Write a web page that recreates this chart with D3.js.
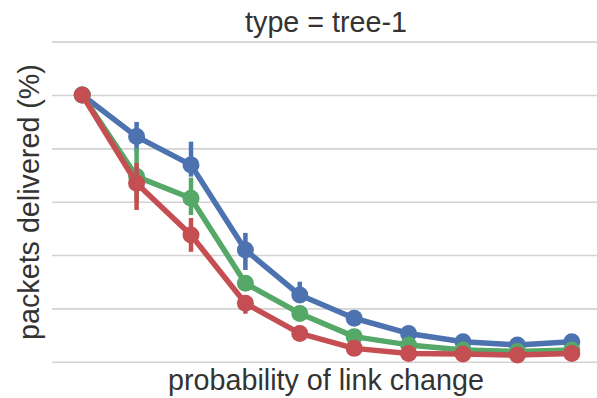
<!DOCTYPE html>
<html>
<head>
<meta charset="utf-8">
<script src="https://cdn.jsdelivr.net/npm/d3@7"></script>
<style>
  html, body { margin: 0; padding: 0; background: #ffffff; }
  svg { display: block; }
  text { font-family: "Liberation Sans", Arial, sans-serif; fill: #333333; }
</style>
</head>
<body>
<svg id="chart" width="597" height="398"></svg>
<script>
// Link-change probabilities (x categories, tick labels hidden)
const categories = ["0.0", "0.1", "0.2", "0.3", "0.4", "0.5", "0.6", "0.7", "0.8", "0.9"];
const yTicks = [0, 0.2, 0.4, 0.6, 0.8, 1.0, 1.2];

// Mean fraction of packets delivered per run group
const blueMean  = [1.0, 0.844, 0.738, 0.419, 0.250, 0.163, 0.106, 0.075, 0.063, 0.075];
const greenMean = [1.0, 0.694, 0.613, 0.294, 0.181, 0.094, 0.063, 0.044, 0.038, 0.044];
const redMean   = [1.0, 0.669, 0.475, 0.219, 0.106, 0.050, 0.031, 0.029, 0.025, 0.031];

// Confidence interval bounds [low, high]
const blueCI  = [[1.0, 1.0], [0.787, 0.899], [0.694, 0.825], [0.344, 0.483], [0.225, 0.300], [0.150, 0.176], [0.096, 0.116], [0.067, 0.083], [0.056, 0.070], [0.066, 0.084]];
const greenCI = [[1.0, 1.0], [0.600, 0.800], [0.550, 0.690], [0.270, 0.318], [0.165, 0.197], [0.085, 0.103], [0.056, 0.070], [0.038, 0.050], [0.032, 0.044], [0.038, 0.050]];
const redCI   = [[1.0, 1.0], [0.569, 0.745], [0.412, 0.539], [0.180, 0.250], [0.092, 0.120], [0.043, 0.057], [0.026, 0.036], [0.024, 0.034], [0.021, 0.029], [0.026, 0.036]];

const seriesColors = ["#4C72B0", "#55A868", "#C44E52"];

const series = [
  { mean: blueMean,  ci: blueCI,  color: seriesColors[0] },
  { mean: greenMean, ci: greenCI, color: seriesColors[1] },
  { mean: redMean,   ci: redCI,   color: seriesColors[2] }
];

const svg = d3.select("#chart");
const plot = { left: 55, right: 599, top: 30, bottom: 361.7 };

const x = d3.scalePoint()
  .domain(categories)
  .range([plot.left, plot.right])
  .padding(0.5);

const y = d3.scaleLinear()
  .domain([0, 1.0])
  .range([plot.bottom, 95]);

// Horizontal gridlines via a left axis with full-width ticks
const gridAxis = d3.axisLeft(y)
  .tickValues(yTicks)
  .tickSize(-(plot.right - plot.left + 4))
  .tickFormat("");

const grid = svg.append("g")
  .attr("transform", `translate(${plot.left - 3},0)`)
  .call(gridAxis);
grid.select(".domain").remove();
grid.selectAll(".tick line")
  .attr("stroke", "#d3d3d3")
  .attr("stroke-width", 1.6);

// Series: lines, error bars and point markers
const line = d3.line()
  .x((d, i) => x(categories[i]))
  .y(d => y(d));

series.forEach(s => {
  const g = svg.append("g");
  g.selectAll("line.err")
    .data(s.ci)
    .join("line")
    .attr("class", "err")
    .attr("x1", (d, i) => x(categories[i]))
    .attr("x2", (d, i) => x(categories[i]))
    .attr("y1", d => y(d[0]))
    .attr("y2", d => y(d[1]))
    .attr("stroke", s.color)
    .attr("stroke-width", 4.5);

  g.append("path")
    .datum(s.mean)
    .attr("d", line)
    .attr("fill", "none")
    .attr("stroke", s.color)
    .attr("stroke-width", 5.5)
    .attr("stroke-linejoin", "round");

  g.selectAll("circle")
    .data(s.mean)
    .join("circle")
    .attr("cx", (d, i) => x(categories[i]))
    .attr("cy", d => y(d))
    .attr("r", 8.5)
    .attr("fill", s.color);
});

// Title and axis labels
svg.append("text")
  .attr("x", 326)
  .attr("y", 32)
  .attr("text-anchor", "middle")
  .style("font-size", "28.7px")
  .text("type = tree-1");

svg.append("text")
  .attr("x", 326)
  .attr("y", 390)
  .attr("text-anchor", "middle")
  .style("font-size", "28.7px")
  .text("probability of link change");

svg.append("text")
  .attr("transform", "translate(39,202) rotate(-90)")
  .attr("text-anchor", "middle")
  .style("font-size", "28.7px")
  .text("packets delivered (%)");
</script>
</body>
</html>
